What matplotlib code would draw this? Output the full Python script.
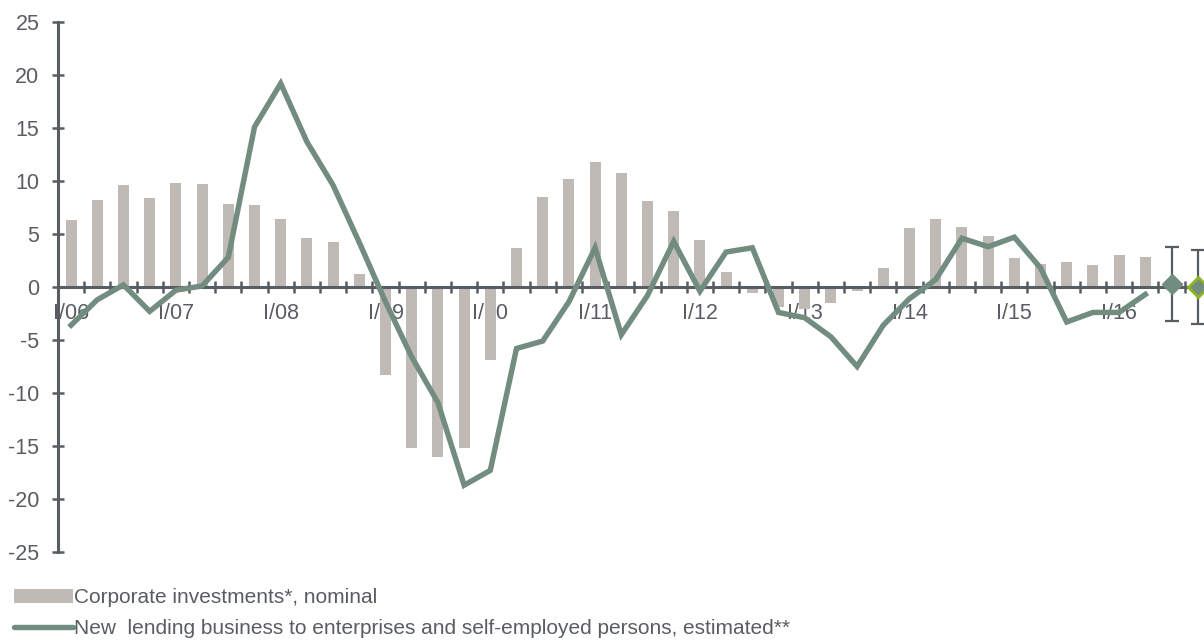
import numpy as np
import matplotlib.pyplot as plt
from matplotlib.patches import Patch
from matplotlib.lines import Line2D

plt.rcParams['font.family'] = ['Liberation Sans', 'DejaVu Sans']
plt.rcParams['axes.unicode_minus'] = False

# quarters I/06 .. II/16
invest = [6.3, 8.2, 9.6, 8.4, 9.8, 9.7, 7.8, 7.7, 6.4, 4.6, 4.2, 1.2,
          -8.3, -15.2, -16.0, -15.2, -6.9, 3.7, 8.5, 10.2, 11.8, 10.8, 8.1, 7.2,
          4.4, 1.4, -0.6, -1.9, -2.1, -1.5, -0.4, 1.8, 5.6, 6.4, 5.7, 4.8,
          2.7, 2.2, 2.4, 2.1, 3.0, 2.8]
lending = [-3.6, -1.2, 0.2, -2.3, -0.3, 0.1, 2.8, 15.1, 19.2, 13.7, 9.6, 4.2,
           -1.4, -6.6, -10.9, -18.7, -17.3, -5.8, -5.1, -1.4, 3.7, -4.5, -0.8, 4.3,
           -0.4, 3.3, 3.7, -2.4, -2.9, -4.7, -7.5, -3.6, -1.1, 0.7, 4.6, 3.8,
           4.7, 1.8, -3.3, -2.4, -2.4, -0.7]
year_labels = ['I/06', 'I/07', 'I/08', 'I/09', 'I/10', 'I/11',
               'I/12', 'I/13', 'I/14', 'I/15', 'I/16']
# estimates for the next two quarters with their ranges
est_val = [0.3, 0.0]
est_low = [-3.2, -3.5]
est_high = [3.8, 3.5]

bar_col = '#bfbab5'
line_col = '#728c80'
axis_col = '#575d63'
text_col = '#595d62'

n = len(invest)
x = np.arange(n)

fig = plt.figure(figsize=(12.04, 6.44), dpi=100)
ax = fig.add_axes([58/1204, 92/644, 1146/1204, 530/644])

ax.bar(x, invest, width=0.42, color=bar_col, zorder=2)
ax.plot(x, lending, color=line_col, lw=3.9, solid_joinstyle='miter', zorder=3)

ex = np.arange(n, n + 2)
yerr = [np.array(est_val) - np.array(est_low), np.array(est_high) - np.array(est_val)]
ax.errorbar(ex, est_val, yerr=yerr, fmt='none', ecolor=axis_col, elinewidth=1.6,
            capsize=5, capthick=1.6, zorder=4, clip_on=False)
ax.plot(ex[0], est_val[0], 'D', ms=10, color=line_col, zorder=5, clip_on=False)
ax.plot(ex[1], est_val[1], 'D', ms=10, color=line_col, mec='#8db51e', mew=2,
        zorder=5, clip_on=False)

ax.set_xlim(-0.5, 43.24)
ax.set_ylim(-25, 25)

for s in ['top', 'right']:
    ax.spines[s].set_visible(False)
ax.spines['bottom'].set_position(('data', 0))
ax.spines['left'].set_color(axis_col)
ax.spines['bottom'].set_color(axis_col)
ax.spines['left'].set_linewidth(2.2)
ax.spines['bottom'].set_linewidth(2.2)
ax.spines['bottom'].set_zorder(2.5)

ax.set_yticks(np.arange(-25, 26, 5))
ax.tick_params(axis='y', direction='inout', length=8, width=1.8, color=axis_col,
               labelsize=15.5, labelcolor=text_col, pad=9.5)

ax.set_xticks(np.arange(0.5, n + 1, 1.0))
ax.set_xticklabels([])
ax.tick_params(axis='x', which='major', direction='inout', length=8.5, width=1.8,
               color=axis_col)
ax.set_xticks(np.arange(0, n, 4), minor=True)
ax.set_xticklabels(year_labels, minor=True)
ax.tick_params(axis='x', which='minor', length=0, labelsize=15.5,
               labelcolor=text_col, pad=11.5)

handles = [Patch(facecolor=bar_col, edgecolor='none'),
           Line2D([], [], color=line_col, lw=3.9, solid_capstyle='round')]
labels = ['Corporate investments*, nominal',
          'New  lending business to enterprises and self-employed persons, estimated**']
fig.legend(handles, labels, loc='upper left', bbox_to_anchor=(8/1204, 1 - 582/644),
           frameon=False, fontsize=15, labelcolor=text_col, handlelength=2.8,
           handleheight=0.6, handletextpad=0.05, labelspacing=0.58, borderaxespad=0,
           borderpad=0.3)

fig.savefig('out.png', dpi=100)
